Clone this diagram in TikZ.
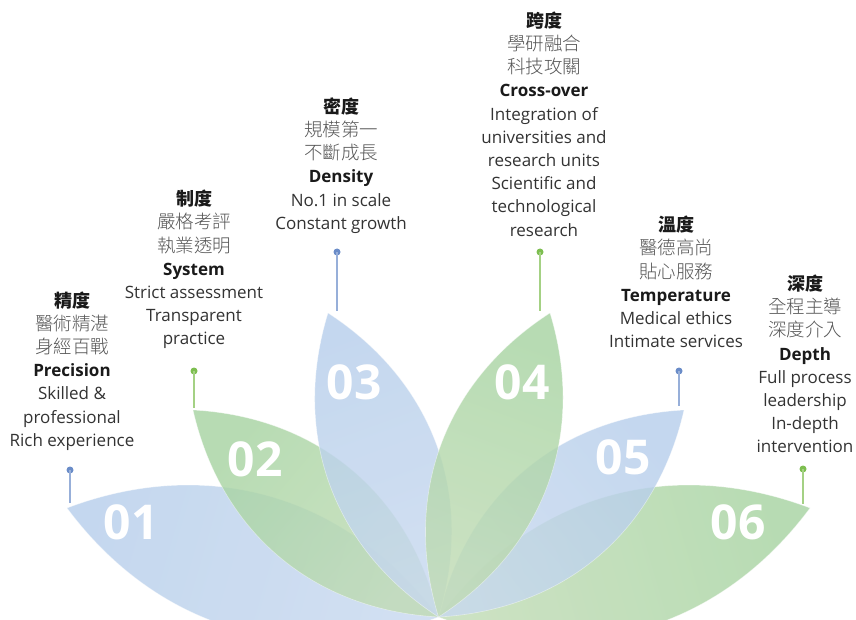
\documentclass[tikz,border=0pt]{standalone}
\usepackage{fontspec}
\setmainfont{Open Sans}
\newfontfamily\cjkfam{Noto Sans CJK TC}
\newfontfamily\cjklight{Noto Sans CJK TC Light}
\definecolor{txtdark}{HTML}{333333}
\definecolor{txthead}{HTML}{1A1A1A}
\definecolor{cjkgray}{HTML}{555555}
\definecolor{bluetip}{RGB}{182,206,235}
\definecolor{bluebase}{RGB}{199,216,239}
\definecolor{greentip}{RGB}{165,211,160}
\definecolor{greenbase}{RGB}{192,219,180}
\definecolor{dotblue}{RGB}{106,140,200}
\definecolor{dotgreen}{RGB}{125,190,80}
\newcommand\cjline[1]{{\cjklight\fontsize{18.5}{23.2}\selectfont\color{cjkgray}#1}}
\newcommand\cjhead[1]{{\cjkfam\bfseries\fontsize{18}{23.2}\selectfont\color{txthead}#1}}
\newcommand\enhead[1]{{\bfseries\color{txthead}#1}}
\begin{document}
\begin{tikzpicture}[x=1pt,y=-1pt,
  petalb/.style={fill opacity=0.8, draw=white, draw opacity=0.45, line width=0.6pt, top color=bluetip, bottom color=bluebase},
  petalg/.style={fill opacity=0.8, draw=white, draw opacity=0.45, line width=0.6pt, top color=greentip, bottom color=greenbase},
  num/.style={text=white, font=\fontsize{48}{48}\selectfont\bfseries, inner sep=0pt},
  txt/.style={align=center, text=txtdark, font=\fontsize{17}{23.2}\selectfont, inner sep=0pt},
  dotb/.style={circle, fill=dotblue, minimum size=7pt, inner sep=0pt},
  dotg/.style={circle, fill=dotgreen, minimum size=7pt, inner sep=0pt},
  pinb/.style={draw=dotblue!70, line width=1.4pt},
  ping/.style={draw=dotgreen!70, line width=1.4pt}]
\useasboundingbox (0,0) rectangle (856,620);
\clip (0,0) rectangle (856,620);
\fill[white] (0,0) rectangle (856,620);
% base and tips
\coordinate (B) at (438.5,617);
\coordinate (t1) at (67,508);
\coordinate (t2) at (193,410);
\coordinate (t3) at (328,313);
\coordinate (t4) at (550,313);
\coordinate (t5) at (684,410);
\coordinate (t6) at (810,508);
% petals (outer first)
\shadedraw[petalb, shading angle=73.8] (B) to[bend left=37] (t1) to[bend left=37] (B) -- cycle;
\shadedraw[petalg, shading angle=-73.8] (B) to[bend left=37] (t6) to[bend left=37] (B) -- cycle;
\shadedraw[petalg, shading angle=50] (B) to[bend left=37] (t2) to[bend left=37] (B) -- cycle;
\shadedraw[petalb, shading angle=-50] (B) to[bend left=37] (t5) to[bend left=37] (B) -- cycle;
\shadedraw[petalb, shading angle=20] (B) to[bend left=37] (t3) to[bend left=37] (B) -- cycle;
\shadedraw[petalg, shading angle=-20] (B) to[bend left=37] (t4) to[bend left=37] (B) -- cycle;
% numbers
\node[num] (n1) at (131,522) {01};
\node[num] (n2) at (255,459) {02};
\node[num] (n3) at (354,382) {03};
\node[num] (n4) at (522,382) {04};
\node[num] (n5) at (623,457) {05};
\node[num] (n6) at (738,522) {06};
% pins
\node[dotb] (d1) at (70,470) {};
\coordinate (e1) at (70,503);
\draw[pinb] (d1.center) -- (e1);
\node[dotg] (d2) at (194,371) {};
\coordinate (e2) at (194,408);
\draw[ping] (d2.center) -- (e2);
\node[dotb] (d3) at (337,252) {};
\coordinate (e3) at (337,311);
\draw[pinb] (d3.center) -- (e3);
\node[dotg] (d4) at (540,252) {};
\coordinate (e4) at (540,311);
\draw[ping] (d4.center) -- (e4);
\node[dotb] (d5) at (679,371) {};
\coordinate (e5) at (679,406);
\draw[pinb] (d5.center) -- (e5);
\node[dotg] (d6) at (803,469) {};
\coordinate (e6) at (803,504);
\draw[ping] (d6.center) -- (e6);
% texts
\node[txt] (x1) at (72,371) {\cjhead{精度}\\\cjline{醫術精湛}\\\cjline{身經百戰}\\\enhead{Precision}\\Skilled \&\\professional\\Rich experience};
\node[txt] (x2) at (194,269.5) {\cjhead{制度}\\\cjline{嚴格考評}\\\cjline{執業透明}\\\enhead{System}\\Strict assessment\\Transparent\\practice};
\node[txt] (x3) at (341,165.5) {\cjhead{密度}\\\cjline{規模第一}\\\cjline{不斷成長}\\\enhead{Density}\\No.1 in scale\\Constant growth};
\node[txt] (x4) at (544,124) {\cjhead{跨度}\\\cjline{學研融合}\\\cjline{科技攻關}\\\enhead{Cross-over}\\Integration of\\universities and\\research units\\Scientific and\\technological\\research};
\node[txt] (x5) at (676,282) {\cjhead{溫度}\\\cjline{醫德高尚}\\\cjline{貼心服務}\\\enhead{Temperature}\\Medical ethics\\Intimate services};
\node[txt] (x6) at (805,364) {\cjhead{深度}\\\cjline{全程主導}\\\cjline{深度介入}\\\enhead{Depth}\\Full process\\leadership\\In-depth\\intervention};
\end{tikzpicture}
\end{document}
